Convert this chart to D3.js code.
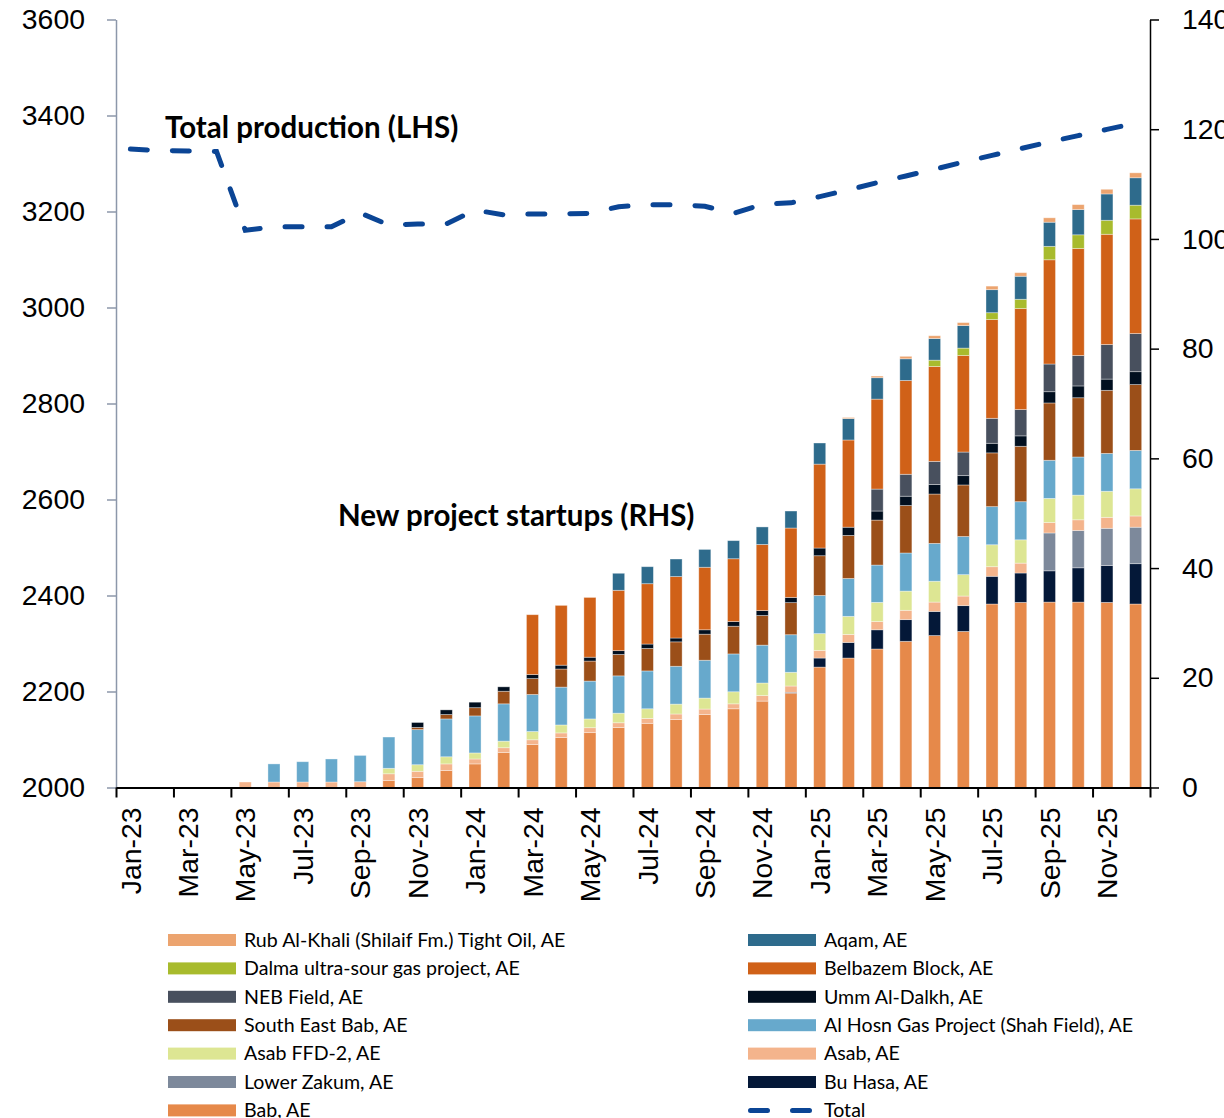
<!DOCTYPE html>
<meta charset="utf-8">
<style>
body { margin: 0; background: #fff; }
svg { font-family: Lato, "Open Sans", sans-serif; }
.axis text { font-size: 28.4px; fill: #000; }
.axis--left path, .axis--left line { stroke: #8C97AA; stroke-width: 1.5px; }
.axis--right path, .axis--right line { stroke: #000; stroke-width: 1.5px; }
.axis--x path, .axis--x line { stroke: #000; stroke-width: 2px; }
.bar { stroke: #fff; stroke-opacity: 0.45; stroke-width: 0.8px; }
.total { fill: none; stroke: #0B4595; stroke-width: 5px; stroke-linecap: round; stroke-dasharray: 17 25; }
.note { font-size: 29.5px; font-weight: bold; fill: #000; }
.legend text { font-size: 19.6px; fill: #000; }
</style>
<body>
<svg width="1224" height="1118"></svg>
<script src="https://d3js.org/d3.v7.min.js"></script>
<script>
var months = ["Jan-23","Feb-23","Mar-23","Apr-23","May-23","Jun-23","Jul-23","Aug-23","Sep-23","Oct-23","Nov-23","Dec-23",
              "Jan-24","Feb-24","Mar-24","Apr-24","May-24","Jun-24","Jul-24","Aug-24","Sep-24","Oct-24","Nov-24","Dec-24",
              "Jan-25","Feb-25","Mar-25","Apr-25","May-25","Jun-25","Jul-25","Aug-25","Sep-25","Oct-25","Nov-25","Dec-25"];
var xLabels = months.filter(function(d, i) { return i % 2 === 0; });
var leftTicks = [2000, 2200, 2400, 2600, 2800, 3000, 3200, 3400, 3600];
var rightTicks = [0, 20, 40, 60, 80, 100, 120, 140];

// stacked series, bottom to top (RHS)
var bab        = [0,0,0,0,0,0,0,0,0,1.3,1.8,3.1, 4.3,6.4,7.85,9.1,10.0,10.95,11.7,12.4,13.3,14.35,15.75,17.2, 21.95,23.6,25.25,26.65,27.7,28.45,33.45,33.75,33.8,33.8,33.75,33.45];
var buHasa     = [0,0,0,0,0,0,0,0,0,0,0,0, 0,0,0,0,0,0,0,0,0,0,0,0.15, 1.65,2.85,3.5,3.95,4.4,4.7,5.05,5.35,5.7,6.25,6.7,7.35];
var lowerZakum = [0,0,0,0,0,0,0,0,0,0,0,0, 0,0,0,0,0,0,0,0,0,0,0,0, 0,0,0,0,0,0,0,0,6.9,6.8,6.8,6.65];
var asab       = [0,0,0,0,1.0,1.0,1.0,1.0,1.05,1.2,1.15,1.2, 0.9,0.85,0.85,0.85,0.9,0.85,0.9,1.0,1.0,0.9,1.0,1.15, 1.4,1.45,1.5,1.7,1.7,1.75,1.75,1.8,1.9,1.95,2.0,2.05];
var asabFfd2   = [0,0,0,0,0,0,0,0,0,1.0,1.2,1.3, 1.1,1.2,1.5,1.45,1.6,1.75,1.75,1.8,2.0,2.2,2.3,2.5, 3.05,3.3,3.5,3.5,3.8,3.9,4.0,4.25,4.4,4.5,4.75,4.95];
var alHosn     = [0,0,0,0,0,3.3,3.7,4.2,4.8,5.7,6.4,6.9, 6.75,6.8,6.75,6.9,6.9,6.8,6.9,6.9,6.9,6.9,6.9,6.85, 6.95,6.9,6.8,6.95,6.9,6.95,6.95,6.95,6.95,6.95,6.9,7.0];
var seBab      = [0,0,0,0,0,0,0,0,0,0,0.4,0.8, 1.5,2.3,2.9,3.3,3.65,3.9,4.1,4.45,4.75,5.05,5.4,5.85, 7.25,7.85,8.2,8.65,9.0,9.4,9.8,10.1,10.45,10.8,11.5,12.0];
var ummAlDalkh = [0,0,0,0,0,0,0,0,0,0,0.9,0.85, 1.0,0.8,0.75,0.7,0.7,0.7,0.8,0.7,0.8,0.85,0.9,0.95, 1.4,1.5,1.65,1.7,1.75,1.7,1.75,1.9,2.05,2.15,2.05,2.35];
var nebField   = [0,0,0,0,0,0,0,0,0,0,0,0, 0,0,0,0,0,0,0,0,0,0,0,0, 0,0,4.0,4.0,4.2,4.3,4.55,4.8,5.05,5.55,6.3,6.95];
var belbazem   = [0,0,0,0,0,0,0,0,0,0,0,0, 0,0,10.9,10.9,10.9,11.0,11.0,11.2,11.4,11.45,12.05,12.65, 15.3,15.9,16.4,17.1,17.3,17.6,18.0,18.4,19.0,19.5,20.1,20.9];
var dalma      = [0,0,0,0,0,0,0,0,0,0,0,0, 0,0,0,0,0,0,0,0,0,0,0,0, 0,0,0,0,1.15,1.35,1.25,1.7,2.45,2.5,2.55,2.5];
var aqam       = [0,0,0,0,0,0,0,0,0,0,0,0, 0,0,0,0,0,3.1,3.1,3.2,3.25,3.3,3.2,3.1, 3.85,3.9,3.9,3.95,3.95,4.1,4.2,4.2,4.4,4.6,4.8,5.0];
var rubAlKhali = [0,0,0,0,0,0,0,0,0,0,0,0, 0,0,0,0,0,0,0,0,0,0,0,0, 0,0.2,0.3,0.45,0.5,0.55,0.65,0.65,0.8,0.9,0.85,0.9];

// total production (LHS)
var total = [3330,3327,3326,3325,3161,3168,3168,3168,3197,3172,3174,3174,
             3203,3193,3195,3195,3196,3210,3214,3214,3211,3196,3215,3218,
             3231,3245,3260,3274,3288,3303,3317,3331,3345,3358,3371,3384];

var seriesNames = ["Bab, AE","Bu Hasa, AE","Lower Zakum, AE","Asab, AE","Asab FFD-2, AE",
                   "Al Hosn Gas Project (Shah Field), AE","South East Bab, AE","Umm Al-Dalkh, AE",
                   "NEB Field, AE","Belbazem Block, AE","Dalma ultra-sour gas project, AE","Aqam, AE",
                   "Rub Al-Khali (Shilaif Fm.) Tight Oil, AE"];
var seriesValues = [bab, buHasa, lowerZakum, asab, asabFfd2, alHosn, seBab, ummAlDalkh, nebField, belbazem, dalma, aqam, rubAlKhali];
var seriesColors = ["#E6894A","#041838","#7D899B","#F4B48C","#DDE693","#67A9CC","#9B4F19","#010F1F",
                    "#48505E","#D06118","#A8BB2D","#2E6B8C","#ECA46F"];

var svg = d3.select("svg"),
    margin = {top: 19.5, right: 74, bottom: 330.5, left: 116},
    width = +svg.attr("width") - margin.left - margin.right,
    height = +svg.attr("height") - margin.top - margin.bottom;

var g = svg.append("g").attr("transform", "translate(" + margin.left + "," + margin.top + ")");

var table = months.map(function(m, i) {
  var row = {month: m, total: total[i]};
  seriesNames.forEach(function(n, k) { row[n] = seriesValues[k][i]; });
  return row;
});

var x = d3.scaleBand().domain(months).range([0, width]).paddingInner(0.58).paddingOuter(0.29);
var xTicks = d3.scaleLinear().domain([0, months.length]).range([0, width]);
var yL = d3.scaleLinear().domain([2000, 3600]).range([height, 0]);
var yR = d3.scaleLinear().domain([0, 140]).range([height, 0]);
var color = d3.scaleOrdinal().domain(seriesNames).range(seriesColors);

var stacked = d3.stack().keys(seriesNames)(table);

g.selectAll(".layer")
  .data(stacked)
  .enter().append("g")
    .attr("class", "layer")
    .attr("fill", function(d) { return color(d.key); })
  .selectAll("rect")
  .data(function(d) { return d.filter(function(p) { return p[1] - p[0] > 0; }); })
  .enter().append("rect")
    .attr("class", "bar")
    .attr("x", function(d) { return x(d.data.month); })
    .attr("width", x.bandwidth())
    .attr("y", function(d) { return yR(d[1]); })
    .attr("height", function(d) { return yR(d[0]) - yR(d[1]); });

// axes
g.append("g")
    .attr("class", "axis axis--left")
    .call(d3.axisLeft(yL).tickValues(leftTicks).tickSize(9).tickSizeOuter(0).tickPadding(22).tickFormat(d3.format("d")));

g.append("g")
    .attr("class", "axis axis--right")
    .attr("transform", "translate(" + width + ",0)")
    .call(d3.axisRight(yR).tickValues(rightTicks).tickSize(9).tickSizeOuter(0).tickPadding(23));

g.append("g")
    .attr("class", "axis axis--x")
    .attr("transform", "translate(0," + height + ")")
    .call(d3.axisBottom(xTicks).tickValues(d3.range(0, months.length + 1, 2)).tickSize(10).tickSizeOuter(0).tickFormat(""));

g.append("g")
    .attr("class", "axis axis--xlabels")
    .attr("transform", "translate(0," + height + ")")
    .call(d3.axisBottom(x).tickValues(xLabels).tickSize(0).tickPadding(0))
    .call(function(a) { a.select(".domain").remove(); })
  .selectAll("text")
    .attr("transform", "rotate(-90)")
    .attr("text-anchor", "end")
    .attr("x", -20)
    .attr("y", 0)
    .attr("dy", "0.36em");

// total line
var line = d3.line()
    .x(function(d) { return x(d.month) + x.bandwidth() / 2; })
    .y(function(d) { return yL(d.total); });

g.append("path")
    .datum(table)
    .attr("class", "total")
    .attr("d", line);

// annotations
g.append("text").attr("class", "note")
    .attr("x", 49).attr("y", yL(3353))
    .text("Total production (LHS)");

g.append("text").attr("class", "note")
    .attr("x", 222).attr("y", yR(47.6))
    .text("New project startups (RHS)");

// legend (two columns, reverse stack order, then Total)
var legendItems = seriesNames.slice().reverse().concat(["Total"]);
var legend = svg.append("g").attr("class", "legend")
    .attr("transform", "translate(168,940)");

var item = legend.selectAll("g")
  .data(legendItems)
  .enter().append("g")
    .attr("transform", function(d, i) { return "translate(" + (i % 2) * 580 + "," + Math.floor(i / 2) * 28.4 + ")"; });

item.filter(function(d) { return d !== "Total"; })
  .append("rect")
    .attr("x", 0).attr("y", -6)
    .attr("width", 68).attr("height", 12)
    .attr("fill", function(d) { return color(d); });

item.filter(function(d) { return d === "Total"; })
  .append("line")
    .attr("class", "total")
    .attr("x1", 2.5).attr("x2", 66)
    .attr("y1", 0).attr("y2", 0);

item.append("text")
    .attr("x", 76)
    .attr("dy", "0.35em")
    .text(function(d) { return d; });
</script>
</body>
